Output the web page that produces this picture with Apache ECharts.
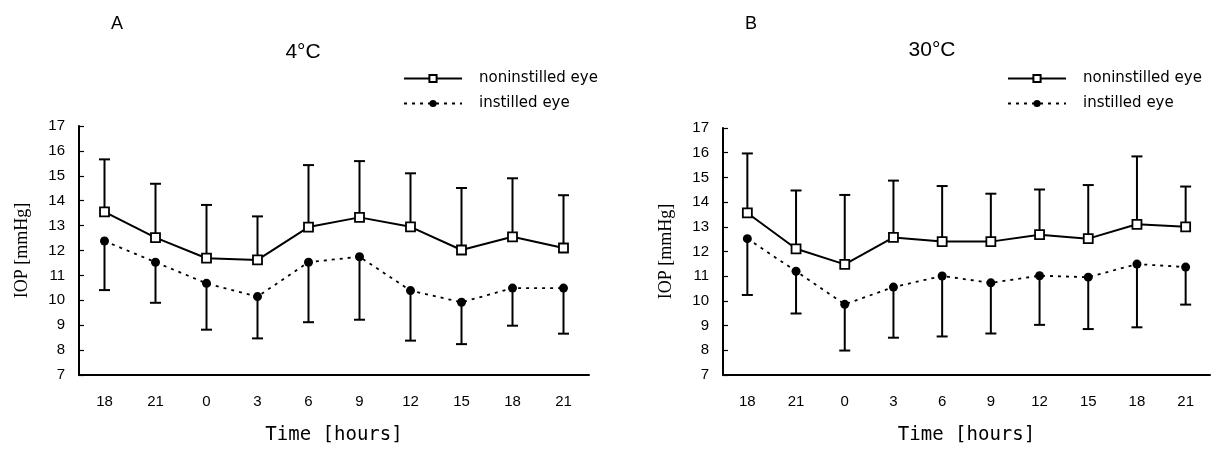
<!DOCTYPE html>
<html style="height: 100%">
<head>
<meta charset="utf-8">
<script type="text/javascript" src="https://cdn.jsdelivr.net/npm/echarts@6/dist/echarts.min.js"></script>
</head>
<body style="height: 100%; margin: 0; background: #fff">
<div id="container" style="width: 1223px; height: 450px"></div>
<script type="text/javascript">
var hours = ['18', '21', '0', '3', '6', '9', '12', '15', '18', '21'];

// panel A, 4 C
var nonA = [13.55, 12.52, 11.69, 11.62, 12.94, 13.33, 12.95, 12.02, 12.55, 12.1];
var nonA_sd = [15.66, 14.68, 13.83, 13.37, 15.43, 15.59, 15.1, 14.51, 14.9, 14.22];
var insA = [12.38, 11.53, 10.68, 10.15, 11.53, 11.75, 10.39, 9.92, 10.49, 10.49];
var insA_sd = [10.41, 9.9, 8.82, 8.47, 9.12, 9.22, 8.38, 8.24, 8.98, 8.66];

// panel B, 30 C
var nonB = [13.56, 12.11, 11.48, 12.57, 12.4, 12.4, 12.68, 12.52, 13.1, 13.0];
var nonB_sd = [15.97, 14.47, 14.29, 14.87, 14.65, 14.34, 14.51, 14.69, 15.85, 14.63];
var insB = [12.52, 11.2, 9.86, 10.56, 11.01, 10.73, 11.02, 10.96, 11.49, 11.37];
var insB_sd = [10.24, 9.49, 7.99, 8.51, 8.56, 8.68, 9.03, 8.86, 8.93, 9.85];

var dom = document.getElementById('container');
var myChart = echarts.init(dom);

function errData(mean, bound) {
    var d = [];
    for (var i = 0; i < mean.length; i++) {
        d.push([i, mean[i], bound[i]]);
    }
    return d;
}

function renderErr(params, api) {
    var p1 = api.coord([api.value(0), api.value(1)]);
    var p2 = api.coord([api.value(0), api.value(2)]);
    var w = 5.5;
    var st = { stroke: '#000', lineWidth: 2 };
    return {
        type: 'group',
        children: [
            { type: 'line', shape: { x1: p1[0], y1: p1[1], x2: p2[0], y2: p2[1] }, style: st },
            { type: 'line', shape: { x1: p2[0] - w, y1: p2[1], x2: p2[0] + w, y2: p2[1] }, style: st }
        ]
    };
}

function xAx(idx) {
    return {
        type: 'category',
        gridIndex: idx,
        data: hours,
        boundaryGap: true,
        name: 'Time [hours]',
        nameLocation: 'middle',
        nameGap: 51,
        nameTextStyle: { fontFamily: 'DejaVu Sans Mono', fontSize: 19, color: '#000' },
        axisLine: { lineStyle: { color: '#000', width: 2 } },
        axisTick: { inside: true, length: 6, lineStyle: { color: '#000', width: 1.5 } },
        axisLabel: { margin: 19, fontFamily: 'Liberation Sans Narrow, Liberation Sans', fontSize: 15, color: '#000' },
        splitLine: { show: false }
    };
}

function yAx(idx) {
    return {
        type: 'value',
        gridIndex: idx,
        min: 7,
        max: 17,
        interval: 1,
        name: 'IOP [mmHg]',
        nameLocation: 'middle',
        nameGap: 48,
        nameTextStyle: { fontFamily: 'Liberation Serif', fontSize: 18, color: '#000' },
        axisLine: { show: true, lineStyle: { color: '#000', width: 2 } },
        axisTick: { show: true, inside: true, length: 5, lineStyle: { color: '#000', width: 1.2 } },
        axisLabel: { margin: 14, fontFamily: 'Liberation Sans Narrow, Liberation Sans', fontSize: 15, color: '#000' },
        splitLine: { show: false }
    };
}

function lineSeries(name, idx, data, dotted) {
    return {
        name: name,
        type: 'line',
        xAxisIndex: idx,
        yAxisIndex: idx,
        data: data,
        z: 5,
        symbol: dotted ? 'circle' : 'rect',
        symbolSize: dotted ? 9 : 9,
        showAllSymbol: true,
        itemStyle: dotted ? { color: '#000' } : { color: '#fff', borderColor: '#000', borderWidth: 1.8 },
        lineStyle: { color: '#000', width: dotted ? 1.8 : 2, type: dotted ? [3, 5] : 'solid' },
        animation: false
    };
}

function errSeries(idx, mean, bound) {
    return {
        type: 'custom',
        xAxisIndex: idx,
        yAxisIndex: idx,
        renderItem: renderErr,
        data: errData(mean, bound),
        z: 2,
        silent: true,
        animation: false
    };
}

function legendAt(left) {
    return {
        left: left,
        top: 66,
        orient: 'vertical',
        itemWidth: 58,
        itemHeight: 9,
        itemGap: 10,
        data: ['noninstilled eye', 'instilled eye'],
        textStyle: { fontFamily: 'DejaVu Sans', fontSize: 15, color: '#000', padding: [0, 0, 0, 12] },
        selectedMode: false
    };
}

var option = {
    animation: false,
    title: [
        { text: 'A', left: 106, top: 10, textStyle: { fontFamily: 'Liberation Sans', fontSize: 18, fontWeight: 'normal', color: '#000' } },
        { text: '4°C', left: 298, top: 37, textAlign: 'center', textStyle: { fontFamily: 'Liberation Sans', fontSize: 21, fontWeight: 'normal', color: '#000' } },
        { text: 'B', left: 740, top: 10, textStyle: { fontFamily: 'Liberation Sans', fontSize: 18, fontWeight: 'normal', color: '#000' } },
        { text: '30°C', left: 927, top: 35, textAlign: 'center', textStyle: { fontFamily: 'Liberation Sans', fontSize: 21, fontWeight: 'normal', color: '#000' } }
    ],
    legend: [legendAt(398), legendAt(1002)],
    grid: [
        { left: 79, right: 634, top: 126, bottom: 75 },
        { left: 723, right: 13, top: 128, bottom: 72 }
    ],
    xAxis: [xAx(0), xAx(1)],
    yAxis: [yAx(0), yAx(1)],
    series: [
        errSeries(0, nonA, nonA_sd),
        errSeries(0, insA, insA_sd),
        lineSeries('noninstilled eye', 0, nonA, false),
        lineSeries('instilled eye', 0, insA, true),
        errSeries(1, nonB, nonB_sd),
        errSeries(1, insB, insB_sd),
        lineSeries('noninstilled eye', 1, nonB, false),
        lineSeries('instilled eye', 1, insB, true)
    ]
};
myChart.setOption(option, true);
</script>
</body>
</html>
